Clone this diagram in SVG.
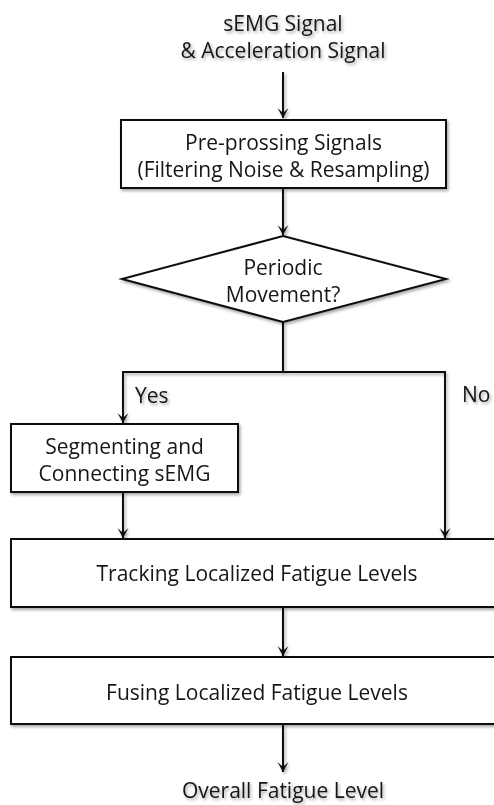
<svg xmlns="http://www.w3.org/2000/svg" width="494" height="805" viewBox="0 0 494 805">
  <style>
    .box { fill: #ffffff; stroke: #111111; stroke-width: 2; }
    .edge { fill: none; stroke: #111111; stroke-width: 2; }
    .lbl { font-family: "Open Sans", "Liberation Sans", sans-serif; font-size: 21px; fill: #161616; text-anchor: middle; }
    .lbl-l { font-family: "Open Sans", "Liberation Sans", sans-serif; font-size: 21px; fill: #161616; text-anchor: start; }
  </style>
  <defs>
    <filter id="sh" x="-5%" y="-5%" width="110%" height="120%">
      <feDropShadow dx="1.5" dy="2" stdDeviation="1.5" flood-color="#000000" flood-opacity="0.35"/>
    </filter>
    <marker id="ah" markerWidth="12" markerHeight="12" viewBox="-10 -6 12 12" refX="0" refY="0" orient="auto" markerUnits="userSpaceOnUse">
      <path d="M-10,-5.5 L0,0 L-10,5.5 L-5,0 Z" fill="#111111"/>
    </marker>
  </defs>
  <rect width="494" height="805" fill="#ffffff"/>
  <g filter="url(#sh)">
    <g id="input">
      <text class="lbl" x="283" y="31">sEMG Signal</text>
      <text class="lbl" x="283" y="58">&amp; Acceleration Signal</text>
    </g>
    <g id="preprocess">
      <rect class="box" x="121" y="120" width="325" height="68"/>
      <text class="lbl" x="283.5" y="150">Pre-prossing Signals</text>
      <text class="lbl" x="283.5" y="177">(Filtering Noise &amp; Resampling)</text>
    </g>
    <g id="decision">
      <polygon class="box" points="283,236 446,279 283,322 122,279"/>
      <text class="lbl" x="283" y="275">Periodic</text>
      <text class="lbl" x="283" y="302">Movement?</text>
    </g>
    <g id="segment">
      <rect class="box" x="11" y="424" width="227" height="68"/>
      <text class="lbl" x="124.5" y="454">Segmenting and</text>
      <text class="lbl" x="124.5" y="481">Connecting sEMG</text>
    </g>
    <g id="tracking">
      <rect class="box" x="11" y="539" width="492" height="68"/>
      <text class="lbl" x="257" y="581">Tracking Localized Fatigue Levels</text>
    </g>
    <g id="fusing">
      <rect class="box" x="11" y="657" width="492" height="67"/>
      <text class="lbl" x="257" y="700">Fusing Localized Fatigue Levels</text>
    </g>
    <g id="output">
      <text class="lbl" x="283" y="798">Overall Fatigue Level</text>
    </g>
    <g id="connectors">
      <path class="edge" d="M283,72 V118" marker-end="url(#ah)"/>
      <path class="edge" d="M283,188 V235" marker-end="url(#ah)"/>
      <path class="edge" d="M283,322 V372"/>
      <path class="edge" d="M122,372 H446"/>
      <path class="edge" d="M123,372 V423" marker-end="url(#ah)"/>
      <path class="edge" d="M445,372 V538" marker-end="url(#ah)"/>
      <path class="edge" d="M123,492 V538" marker-end="url(#ah)"/>
      <path class="edge" d="M283,607 V656" marker-end="url(#ah)"/>
      <path class="edge" d="M283,724 V772" marker-end="url(#ah)"/>
      <text class="lbl-l" x="135" y="403">Yes</text>
      <text class="lbl-l" x="462" y="402">No</text>
    </g>
  </g>
</svg>
